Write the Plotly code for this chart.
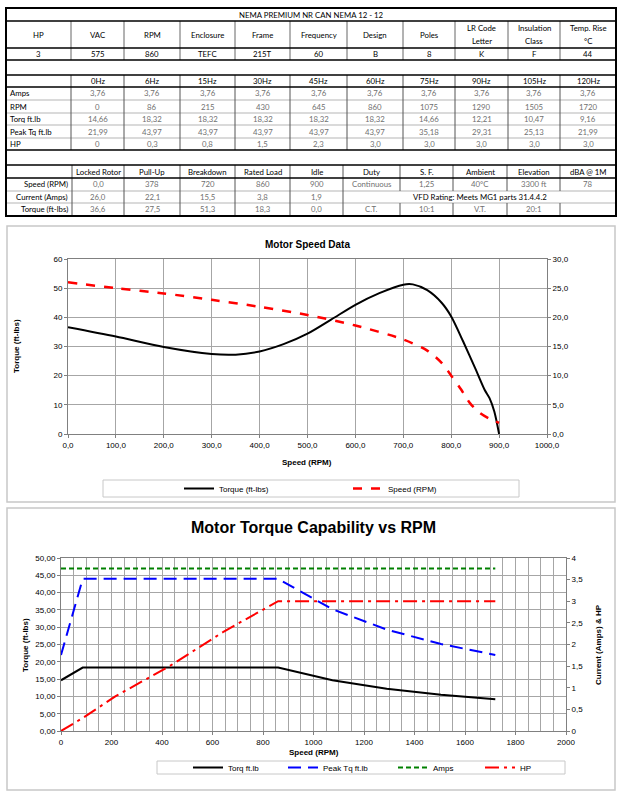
import plotly.graph_objects as go

W, H = 625, 798

# ---------------- DATA ----------------
table_title = "NEMA PREMIUM NR CAN NEMA 12 - 12"
spec_headers = ["HP", "VAC", "RPM", "Enclosure", "Frame", "Frequency", "Design", "Poles",
                "LR Code|Letter", "Insulation|Class", "Temp. Rise|°C"]
spec_values = ["3", "575", "860", "TEFC", "215T", "60", "B", "8", "K", "F", "44"]

hz_labels = ["0Hz", "6Hz", "15Hz", "30Hz", "45Hz", "60Hz", "75Hz", "90Hz", "105Hz", "120Hz"]
row_labels = ["Amps", "RPM", "Torq ft.lb", "Peak Tq ft.lb", "HP"]
amps = [3.76, 3.76, 3.76, 3.76, 3.76, 3.76, 3.76, 3.76, 3.76, 3.76]
rpm = [0, 86, 215, 430, 645, 860, 1075, 1290, 1505, 1720]
torq = [14.66, 18.32, 18.32, 18.32, 18.32, 18.32, 14.66, 12.21, 10.47, 9.16]
peak_tq = [21.99, 43.97, 43.97, 43.97, 43.97, 43.97, 35.18, 29.31, 25.13, 21.99]
hp = [0, 0.3, 0.8, 1.5, 2.3, 3.0, 3.0, 3.0, 3.0, 3.0]

perf_headers = ["Locked Rotor", "Pull-Up", "Breakdown", "Rated Load", "Idle",
                "Duty", "S. F.", "Ambient", "Elevation", "dBA @ 1M"]
perf_labels = ["Speed (RPM)", "Current (Amps)", "Torque (ft-lbs)"]
perf_speed = ["0,0", "378", "720", "860", "900", "Continuous", "1,25", "40°C", "3300 ft", "78"]
perf_current = ["26,0", "22,1", "15,5", "3,8", "1,9"]
vfd_text = "VFD Rating: Meets MG1 parts 31.4.4.2"
perf_torque = ["36,6", "27,5", "51,3", "18,3", "0,0", "C.T.", "10:1", "V.T.", "20:1", ""]

# Motor speed data curves
curve_speed = [0, 100, 200, 300, 350, 400, 450, 500, 550, 600, 650, 700, 720, 750, 780,
               800, 825, 850, 870, 880, 890, 900]
curve_torque = [36.6, 33.4, 29.8, 27.4, 27.2, 28.3, 30.8, 34.4, 39.3, 44.3, 48.3, 51.2, 51.3,
                49.3, 45.0, 40.3, 31.7, 22.6, 15.1, 12.3, 7.7, 0.0]
amp_speed = [0, 100, 200, 300, 400, 500, 600, 700, 750, 780, 800, 820, 840, 860, 880, 900]
amp_current = [26.0, 25.0, 24.1, 23.0, 21.8, 20.4, 18.6, 16.2, 14.3, 12.2, 10.0, 7.7, 5.2,
               3.6, 2.6, 1.9]

# ---------------- HELPERS ----------------
def X(p):
    return p / W

def Y(p):
    return 1 - p / H

def fmt2(v):
    return f"{v:.2f}".replace(".", ",")

def fmt1(v):
    return f"{v:.1f}".replace(".", ",")

shapes = []
annotations = []
TFONT = "Lato, Open Sans, sans-serif"
TS = 7.8
GRAY_TXT = "#707070"

def hline(x0, x1, y, color="#000", width=1):
    shapes.append(dict(type="line", xref="paper", yref="paper", x0=X(x0), x1=X(x1),
                       y0=Y(y), y1=Y(y), line=dict(color=color, width=width)))

def vline(x, y0, y1, color="#000", width=1):
    shapes.append(dict(type="line", xref="paper", yref="paper", x0=X(x), x1=X(x),
                       y0=Y(y0), y1=Y(y1), line=dict(color=color, width=width)))

def text(x, y, s, color="#000", size=TS, anchor="center", bold=False, family=TFONT, angle=0):
    if bold:
        s = "<b>" + s + "</b>"
    annotations.append(dict(xref="paper", yref="paper", x=X(x), y=Y(y), text=s,
                            showarrow=False, xanchor=anchor, yanchor="middle", textangle=angle,
                            font=dict(family=family, size=size, color=color)))

# ---------------- TABLE ----------------
L, R = 6, 616
colsA = [6, 71, 124, 180, 235, 290, 347, 403, 455, 508, 560, 616]
colsB = [6, 72, 124, 180, 235, 290, 343, 400, 453, 507, 560, 616]
rows = [8, 21, 48, 60, 75, 87, 100, 113, 125, 138, 150, 165, 178, 191, 203, 216]

text((L + R) / 2, (rows[0] + rows[1]) / 2 + 0.5, table_title)
for i in range(11):
    cx = (colsA[i] + colsA[i + 1]) / 2
    parts = spec_headers[i].split("|")
    if len(parts) == 1:
        text(cx, (rows[1] + rows[2]) / 2, parts[0])
    else:
        text(cx, rows[1] + 7.5, parts[0])
        text(cx, rows[1] + 20, parts[1])
    text(cx, (rows[2] + rows[3]) / 2, spec_values[i])
for i, h in enumerate(hz_labels):
    cx = (colsA[i + 1] + colsA[i + 2]) / 2
    text(cx, (rows[4] + rows[5]) / 2, h)
data_rows = [
    [fmt2(v) for v in amps],
    [str(v) for v in rpm],
    [fmt2(v) for v in torq],
    [fmt2(v) for v in peak_tq],
    [("0" if v == 0 else fmt1(v)) for v in hp],
]
for r, (lab, vals) in enumerate(zip(row_labels, data_rows)):
    cy = (rows[5 + r] + rows[6 + r]) / 2
    text(colsA[0] + 1.5, cy, lab, anchor="left")
    for i, v in enumerate(vals):
        cx = (colsA[i + 1] + colsA[i + 2]) / 2
        text(cx, cy, v, color=GRAY_TXT)
for i, h in enumerate(perf_headers):
    cx = (colsB[i + 1] + colsB[i + 2]) / 2
    text(cx, (rows[11] + rows[12]) / 2, h)
for r, lab in enumerate(perf_labels):
    cy = (rows[12 + r] + rows[13 + r]) / 2
    text(colsB[1] - 2, cy, lab, anchor="right")
for i, v in enumerate(perf_speed):
    text((colsB[i + 1] + colsB[i + 2]) / 2, (rows[12] + rows[13]) / 2, v, color=GRAY_TXT)
for i, v in enumerate(perf_current):
    text((colsB[i + 1] + colsB[i + 2]) / 2, (rows[13] + rows[14]) / 2, v, color=GRAY_TXT)
text((colsB[6] + colsB[11]) / 2, (rows[13] + rows[14]) / 2, vfd_text)
for i, v in enumerate(perf_torque):
    text((colsB[i + 1] + colsB[i + 2]) / 2, (rows[14] + rows[15]) / 2, v, color=GRAY_TXT)

# table lines
for y in [rows[6], rows[7], rows[8], rows[9], rows[13], rows[14]]:
    hline(L, R, y, color="#b5b5b5", width=1)
for x in colsA[1:-1]:
    vline(x, rows[1], rows[3], color="#666", width=1)
    vline(x, rows[4], rows[10], color="#555", width=1)
for x in colsB[1:-1]:
    vline(x, rows[11], rows[13], color="#555", width=1)
    vline(x, rows[14], rows[15], color="#555", width=1)
for x in colsB[1:7]:
    vline(x, rows[13], rows[14], color="#555", width=1)
for y in [rows[1], rows[2], rows[3], rows[4], rows[5], rows[10], rows[11], rows[12]]:
    hline(L, R, y, color="#000", width=1.3)
shapes.append(dict(type="rect", xref="paper", yref="paper", x0=X(L), x1=X(R),
                   y0=Y(rows[-1]), y1=Y(rows[0]), line=dict(color="#000", width=2)))

# ---------------- CHART BOXES ----------------
for (y0, y1) in [(226, 502), (508, 790)]:
    shapes.append(dict(type="rect", xref="paper", yref="paper", x0=X(7), x1=X(615),
                       y0=Y(y1), y1=Y(y0), line=dict(color="#c8c8c8", width=1.5),
                       layer="below"))

CF = "Liberation Sans, Arial, sans-serif"
text(307, 244, "Motor Speed Data", size=10, bold=True, family=CF)
text(307, 462, "Speed (RPM)", size=8, bold=True, family=CF)
text(17, 346, "Torque (ft-lbs)", size=8, bold=True, family=CF, angle=-90)
text(313, 527, "Motor Torque Capability vs RPM", size=16, bold=True, family=CF)
text(314, 752, "Speed (RPM)", size=8, bold=True, family=CF)
text(25, 645, "Torque (ft-lbs)", size=8, bold=True, family=CF, angle=-90)
text(598, 645, "Current (Amps) & HP", size=8, bold=True, family=CF, angle=-90)

# legend boxes
shapes.append(dict(type="rect", xref="paper", yref="paper", x0=X(103), x1=X(519),
                   y0=Y(497), y1=Y(480), line=dict(color="#c8c8c8", width=1)))
shapes.append(dict(type="rect", xref="paper", yref="paper", x0=X(157), x1=X(565),
                   y0=Y(774), y1=Y(761), line=dict(color="#c8c8c8", width=1)))

# ---------------- TRACES ----------------
fig = go.Figure()
fig.add_trace(go.Scatter(x=curve_speed, y=curve_torque, name="Torque (ft-lbs)",
                         mode="lines", line=dict(color="black", width=2, shape="spline",
                                                 smoothing=0.8),
                         xaxis="x", yaxis="y", legend="legend"))
fig.add_trace(go.Scatter(x=amp_speed, y=amp_current, name="Speed (RPM)",
                         mode="lines", line=dict(color="#ff0000", width=2.5, dash="dash",
                                                 shape="spline", smoothing=0.8),
                         xaxis="x", yaxis="y2", legend="legend2"))
fig.add_trace(go.Scatter(x=rpm, y=torq, name="Torq ft.lb", mode="lines",
                         line=dict(color="black", width=2),
                         xaxis="x2", yaxis="y3", legend="legend3"))
fig.add_trace(go.Scatter(x=rpm, y=peak_tq, name="Peak Tq ft.lb", mode="lines",
                         line=dict(color="#0000ff", width=2, dash="13px,7px"),
                         xaxis="x2", yaxis="y3", legend="legend4"))
fig.add_trace(go.Scatter(x=rpm, y=amps, name="Amps", mode="lines",
                         line=dict(color="#008000", width=2, dash="5px,3px"),
                         xaxis="x2", yaxis="y4", legend="legend5"))
fig.add_trace(go.Scatter(x=rpm, y=hp, name="HP", mode="lines",
                         line=dict(color="#ff0000", width=2, dash="14px,5px,3px,5px"),
                         xaxis="x2", yaxis="y4", legend="legend6"))

GRID = "#a6a6a6"
tickfont = dict(family=CF, size=8, color="#000")
axis_common = dict(showline=True, linecolor="#808080", linewidth=1, mirror=True,
                   gridcolor=GRID, gridwidth=1, zeroline=False, tickfont=tickfont,
                   ticks="outside", ticklen=3, tickcolor="#808080", automargin=False)
right_common = dict(showgrid=False, zeroline=False, tickfont=tickfont, ticks="outside",
                    ticklen=3, tickcolor="#808080", showline=False, automargin=False)

def leg(xtext, ycenter):
    return dict(orientation="h", xref="container", yref="container",
                x=X(xtext - 37), y=Y(ycenter), xanchor="left", yanchor="middle",
                bgcolor="rgba(0,0,0,0)", borderwidth=0, itemwidth=30,
                font=dict(family=CF, size=8, color="#000"))

fig.update_layout(
    width=W, height=H, margin=dict(l=0, r=0, t=0, b=0, autoexpand=False),
    paper_bgcolor="white", plot_bgcolor="white",
    separators=", ",
    showlegend=True,
    shapes=shapes, annotations=annotations,
    xaxis=dict(domain=[X(68), X(547)], range=[0, 1000], dtick=100, tickformat=".1f",
               anchor="y", **axis_common),
    yaxis=dict(domain=[Y(434), Y(259)], range=[0, 60], dtick=10, anchor="x",
               **axis_common),
    yaxis2=dict(overlaying="y", side="right", range=[0, 30], dtick=5, tickformat=".1f",
                anchor="x", **right_common),
    xaxis2=dict(domain=[X(61), X(566)], range=[0, 2000], dtick=200, anchor="y3",
                minor=dict(dtick=50, showgrid=True, gridcolor=GRID, gridwidth=1),
                **axis_common),
    yaxis3=dict(domain=[Y(731), Y(558)], range=[0, 50], dtick=5, tickformat=".2f",
                anchor="x2", **axis_common),
    yaxis4=dict(overlaying="y3", side="right", range=[0, 4], dtick=0.5, anchor="x2",
                **right_common),
    legend=leg(216, 488.5),
    legend2=leg(385, 488.5),
    legend3=leg(225, 767.5),
    legend4=leg(320, 767.5),
    legend5=leg(430, 767.5),
    legend6=leg(517, 767.5),
)

fig.write_html("out.html")
